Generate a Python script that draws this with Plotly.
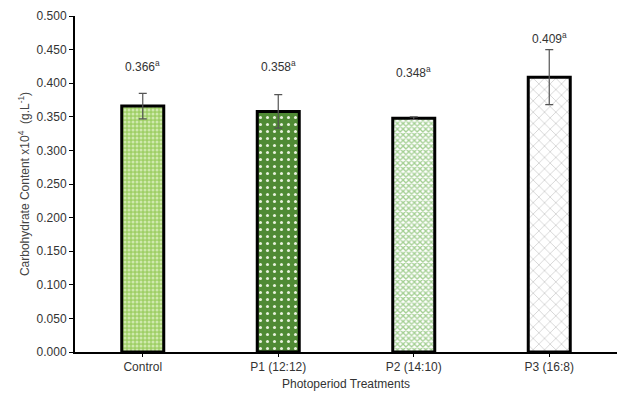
import plotly.graph_objects as go

# Treatment groups and measured carbohydrate content (x10^4 g/L)
treatments = ["Control", "P1 (12:12)", "P2 (14:10)", "P3 (16:8)"]
means = [0.366, 0.358, 0.348, 0.409]
errors = [0.019, 0.025, 0.002, 0.041]
letters = ["a", "a", "a", "a"]
y_ticks = [0.0, 0.05, 0.1, 0.15, 0.2, 0.25, 0.3, 0.35, 0.4, 0.45, 0.5]

# Per-bar fill styling
bg_colors = ["#9fcf66", "#4f8a34", "#ffffff", "#ffffff"]
fg_colors = ["#cfe9ad", "#e8f2dd", "#a3cf92", "#a0a0a0"]
shapes = [".", ".", "x", "x"]
pattern_sizes = [4, 7, 4, 8]
solidity = [0.45, 0.15, 0.55, 0.1]
label_offsets = [0.060, 0.068, 0.068, 0.058]

fig = go.Figure()
for i, t in enumerate(treatments):
    fig.add_trace(go.Bar(
        x=[t],
        y=[means[i]],
        width=0.31,
        marker=dict(
            color=bg_colors[i],
            line=dict(color="#000000", width=3),
            pattern=dict(shape=shapes[i], fgcolor=fg_colors[i], bgcolor=bg_colors[i],
                         size=pattern_sizes[i], solidity=solidity[i],
                         fillmode="replace"),
        ),
        error_y=dict(type="data", array=[errors[i]], visible=True,
                     color="#555555", thickness=1.2, width=4),
        showlegend=False,
    ))

for t, m, l, off in zip(treatments, means, letters, label_offsets):
    fig.add_annotation(
        x=t, y=m + off, xref="x", yref="y",
        text=f"{m:.3f}<sup>{l}</sup>",
        showarrow=False,
        font=dict(family="Liberation Sans, Arial, sans-serif", size=12, color="#333333"),
    )

fig.update_layout(
    width=640, height=408,
    margin=dict(l=75, r=23, t=9, b=56),
    paper_bgcolor="white", plot_bgcolor="white",
    barmode="overlay",
    font=dict(family="Liberation Sans, Arial, sans-serif", size=11, color="#333333"),
    xaxis=dict(
        title=dict(text="Photoperiod Treatments", standoff=6,
                   font=dict(size=12, color="#333333")),
        showline=True, linecolor="#000000", linewidth=2,
        ticks="outside", ticklen=3, tickcolor="#000000",
        range=[-0.5, 3.5],
        categoryorder="array", categoryarray=treatments,
        tickfont=dict(size=12, color="#333333"),
    ),
    yaxis=dict(
        title=dict(text="Carbohydrate Content x10<sup>4</sup>  (g.L<sup>-1</sup>)",
                   standoff=4, font=dict(size=12, color="#444444")),
        range=[0, 0.5], tickvals=y_ticks, tickformat=".3f",
        showline=True, linecolor="#000000", linewidth=2,
        ticks="outside", ticklen=4, tickcolor="#000000",
        showgrid=False, zeroline=False,
        tickfont=dict(size=12, color="#333333"),
    ),
)

fig.write_html("out.html")
